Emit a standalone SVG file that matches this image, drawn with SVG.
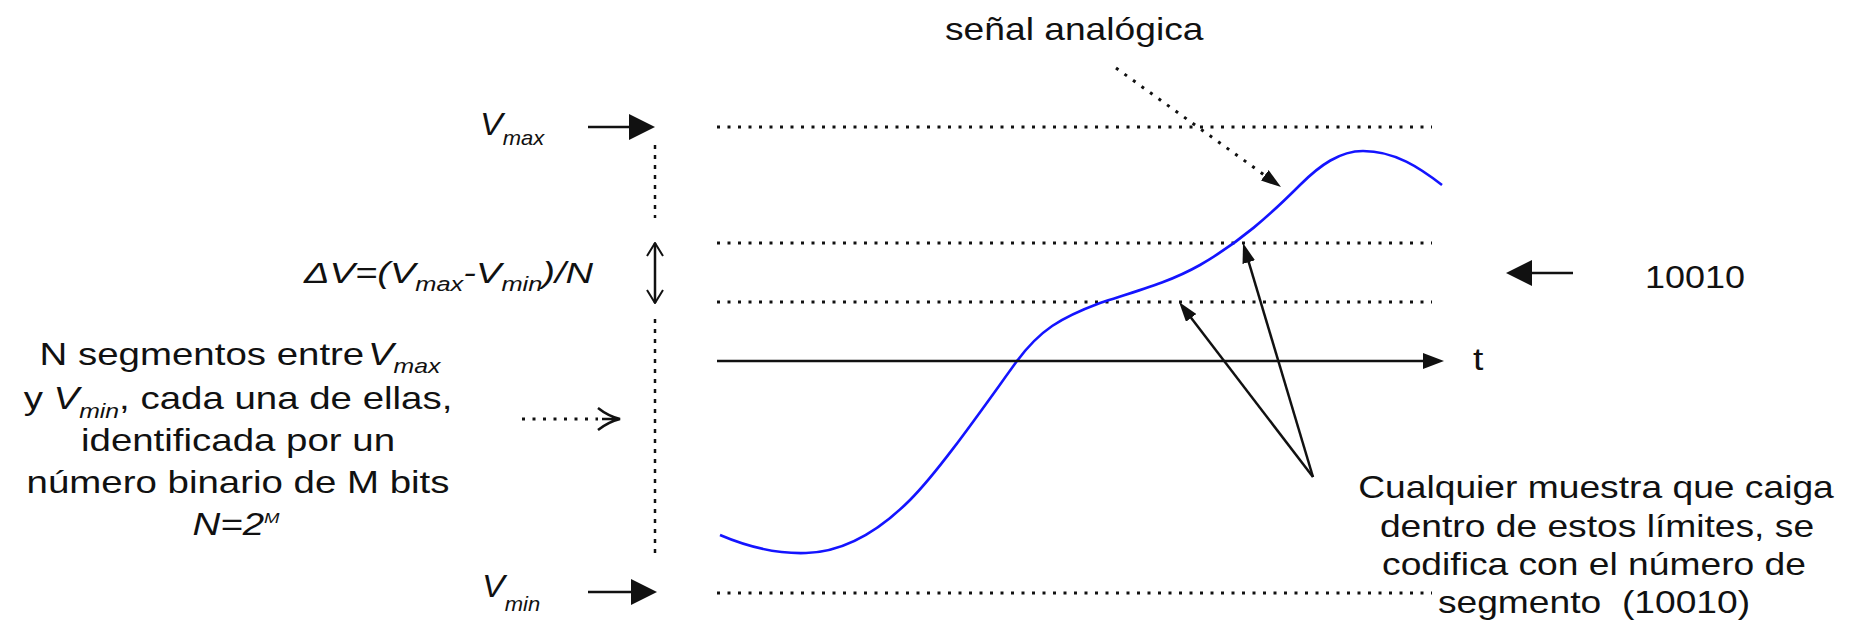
<svg xmlns="http://www.w3.org/2000/svg" width="1850" height="624" viewBox="0 0 1850 624">
<style>
text{font-family:"Liberation Sans",Arial,sans-serif;font-size:31px;fill:#111}
.it{font-style:italic}
.sub{font-size:20px}
.sup{font-size:15px}
.ln{stroke:#111;stroke-width:2.5;fill:none}
.dot{stroke:#111;stroke-width:3;fill:none;stroke-dasharray:3 7.5}
.vdash{stroke:#111;stroke-width:2.5;fill:none;stroke-dasharray:4 6}
.sig{stroke:#1414ff;stroke-width:2.6;fill:none}
</style>
<defs>
<marker id="big" viewBox="0 0 26 26" markerWidth="26" markerHeight="26" refX="16" refY="13" orient="auto" markerUnits="userSpaceOnUse"><path d="M0,0 L26,13 L0,26 z" fill="#111"/></marker>
<marker id="med" viewBox="0 0 21 16" markerWidth="21" markerHeight="16" refX="11" refY="8" orient="auto" markerUnits="userSpaceOnUse"><path d="M0,0 L21,8 L0,16 z" fill="#111"/></marker>
<marker id="sm" viewBox="0 0 20 13" markerWidth="20" markerHeight="13" refX="10" refY="6.5" orient="auto" markerUnits="userSpaceOnUse"><path d="M0,0 L20,6.5 L0,13 z" fill="#111"/></marker>
<marker id="open" viewBox="-1 -1 15 18" markerWidth="15" markerHeight="18" refX="13" refY="8" orient="auto-start-reverse" markerUnits="userSpaceOnUse"><path d="M0,0 L13,8 L0,16" stroke="#111" stroke-width="2" fill="none"/></marker>
<marker id="stealth" viewBox="-1 -1 25 24" markerWidth="25" markerHeight="24" refX="0" refY="11" orient="auto" markerUnits="userSpaceOnUse"><path d="M0,0 Q10,8 22,11 Q10,14 0,22 M4,11 L22,11" stroke="#111" stroke-width="2.5" fill="none"/></marker>
</defs>

<g id="guides">
<line class="dot" x1="717" y1="127" x2="1432" y2="127"/>
<line class="dot" x1="717" y1="243" x2="1432" y2="243"/>
<line class="dot" x1="717" y1="302" x2="1432" y2="302"/>
<line class="dot" x1="717" y1="593" x2="1432" y2="593"/>
<line class="vdash" x1="655" y1="145" x2="655" y2="218"/>
<line class="vdash" x1="655" y1="319" x2="655" y2="557"/>
</g>

<g id="signal">
<path class="sig" d="M720,535 C748,547 775,554 806,553 C845,552 880,530 910,500 C940,470 985,405 1017,361 C1040,330 1060,318 1100,303 C1140,290 1170,282 1200,265 C1240,242 1270,215 1300,185 C1320,165 1340,151 1363,151 C1395,151 1420,168 1442,185"/>
</g>

<g id="connectors">
<line class="ln" x1="588" y1="127" x2="645" y2="127" marker-end="url(#big)"/>
<line class="ln" x1="588" y1="592" x2="647" y2="592" marker-end="url(#big)"/>
<line class="ln" x1="1573" y1="273" x2="1516" y2="273" marker-end="url(#big)"/>
<line class="ln" x1="717" y1="361" x2="1434" y2="361" marker-end="url(#med)"/>
<line class="dot" x1="1116" y1="68" x2="1272.9" y2="181.2" marker-end="url(#sm)"/>
<line class="ln" stroke-width="2" x1="1313" y1="477" x2="1245.9" y2="252.6" marker-end="url(#sm)"/>
<line class="ln" stroke-width="2" x1="1313" y1="477" x2="1185.1" y2="309.9" marker-end="url(#sm)"/>
<line class="ln" stroke-width="2" x1="655" y1="243" x2="655" y2="303" marker-start="url(#open)" marker-end="url(#open)"/>
<line class="dot" x1="522" y1="419" x2="598" y2="419" marker-end="url(#stealth)"/>
</g>

<g id="label-senal"><text transform="matrix(1.2 0 0 1 945 40)">señal analógica</text></g>

<g id="label-vmax"><text class="it" transform="matrix(1.1 0 0 1 480 135)">V<tspan class="sub" dy="10">max</tspan></text></g>

<g id="label-vmin"><text class="it" transform="matrix(1.1 0 0 1 482 597)">V<tspan class="sub" dy="14">min</tspan></text></g>

<g id="label-deltav"><text class="it" style="font-size:30px" transform="matrix(1.27 0 0 1 304 283)">ΔV=(V<tspan class="sub" dy="8">max</tspan><tspan dy="-8">-V</tspan><tspan class="sub" dy="8">min</tspan><tspan dy="-8">)/N</tspan></text></g>

<g id="label-code"><text transform="matrix(1.16 0 0 1 1645 288)">10010</text></g>

<g id="label-t"><text transform="matrix(1.2 0 0 1 1473 370)">t</text></g>

<g id="label-segmentos">
<text text-anchor="middle" transform="matrix(1.24 0 0 1 240 365)">N segmentos entre<tspan class="it" dx="3">V</tspan><tspan class="it sub" dy="8">max</tspan></text>
<text text-anchor="middle" transform="matrix(1.24 0 0 1 238 409)">y <tspan class="it">V</tspan><tspan class="it sub" dy="9">min</tspan><tspan dy="-9">, cada una de ellas,</tspan></text>
<text text-anchor="middle" transform="matrix(1.24 0 0 1 238 451)">identificada por un</text>
<text text-anchor="middle" transform="matrix(1.24 0 0 1 238 493)">número binario de M bits</text>
<text text-anchor="middle" class="it" transform="matrix(1.24 0 0 1 236 535)">N=2<tspan class="sup" dy="-12">M</tspan></text>
</g>

<g id="label-cualquier">
<text text-anchor="middle" transform="matrix(1.2 0 0 1 1596 498)">Cualquier muestra que caiga</text>
<text text-anchor="middle" transform="matrix(1.2 0 0 1 1597 537)">dentro de estos límites, se</text>
<text text-anchor="middle" transform="matrix(1.2 0 0 1 1594 575)">codifica con el número de</text>
<text text-anchor="middle" xml:space="preserve" transform="matrix(1.2 0 0 1 1594 613)">segmento  (10010)</text>
</g>
</svg>
